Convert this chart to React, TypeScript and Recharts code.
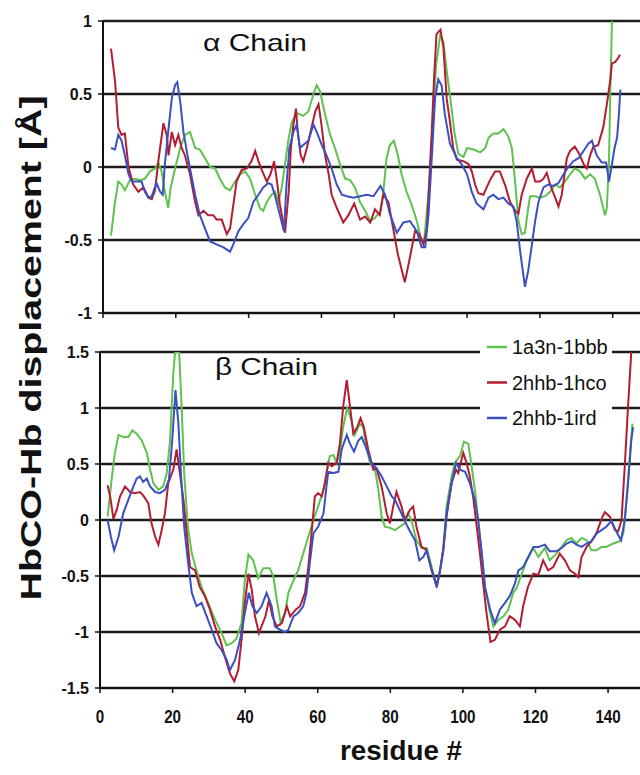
import { CartesianGrid, Line, LineChart, XAxis, YAxis } from "recharts";

// residue #, displacement (Å)
const alphaGreen = [
  [2.2, -0.47], [3.3, -0.24], [4.2, -0.1], [5.1, -0.12], [6, -0.16], [7.4, -0.09], [8.8, -0.08], [10.2, -0.09],
  [11.5, -0.08], [12.9, -0.03], [14.3, -0.01], [15.2, 0.03], [16.1, -0.03], [17, -0.17], [17.9, -0.28], [18.6, -0.14],
  [19.8, -0.01], [21.2, 0.13], [22.5, 0.22], [23.9, 0.24], [25.3, 0.13], [26.6, 0.12], [28, 0.06], [29.4, 0],
  [30.8, -0.01], [32.1, -0.08], [33.5, -0.14], [34.9, -0.16], [36.3, -0.1], [37.6, -0.05], [39, -0.03], [40.4, -0.08],
  [41.8, -0.19], [43.1, -0.28], [44, -0.3], [45, -0.24], [46.3, -0.19], [47.3, -0.17], [48.2, -0.24], [49.1, -0.14],
  [50, 0.02], [51, 0.2], [51.9, 0.31], [53.2, 0.37], [55, 0.35], [56.4, 0.38], [57.8, 0.5], [58.7, 0.56],
  [59.6, 0.52], [61, 0.36], [62.4, 0.22], [63.7, 0.13], [65.1, 0.02], [66.5, -0.08], [67.9, -0.09], [69.2, -0.14],
  [70.6, -0.24], [72, -0.3], [73.4, -0.37], [74.7, -0.35], [76.2, -0.3], [77, -0.17], [77.9, 0.06], [78.8, 0.15],
  [79.9, 0.18], [81, 0.08], [82, -0.05], [83.4, -0.17], [84.8, -0.26], [86.2, -0.37], [87.3, -0.49], [88.2, -0.51],
  [88.7, -0.37], [89.7, -0.1], [90.8, 0.4], [91.5, 0.7], [92.6, 0.9], [93.5, 0.86], [94.4, 0.66], [95.5, 0.45],
  [96.5, 0.24], [97.6, 0.09], [99, 0.07], [100, 0.13], [101.8, 0.12], [103.6, 0.1], [105, 0.13], [105.9, 0.2],
  [107.2, 0.23], [108.6, 0.23], [110, 0.26], [111.3, 0.21], [112.3, 0.13], [113.2, -0.1], [114.1, -0.37], [115, -0.46],
  [115.9, -0.45], [116.8, -0.28], [117.3, -0.2], [118.7, -0.2], [120, -0.21], [121.4, -0.2], [122.8, -0.17], [124.2, -0.12],
  [125.5, -0.14], [126.9, -0.1], [128.3, -0.05], [129.6, -0.01], [131, -0.03], [132.4, -0.08], [133.8, -0.05], [135.1, -0.08],
  [136.5, -0.19], [137.9, -0.33], [138.4, -0.28], [139, 0.06], [139.3, 0.47], [139.8, 1.0],
];

const alphaRed = [
  [2.2, 0.81], [3.3, 0.59], [4.2, 0.27], [5.1, 0.22], [6, 0.23], [7, 0], [8.3, -0.12], [9.7, -0.17],
  [11.1, -0.14], [12.5, -0.21], [13.4, -0.22], [14.3, -0.16], [15.2, 0.04], [16.6, 0.3], [17.5, 0.22], [18, 0.08],
  [18.9, 0.24], [19.8, 0.15], [20.7, 0.22], [21.6, 0.13], [22.5, 0.08], [23.9, -0.05], [25.3, -0.24], [26.2, -0.33],
  [27.6, -0.3], [28.9, -0.33], [30.3, -0.33], [31.2, -0.36], [32.6, -0.36], [34, -0.46], [34.9, -0.42], [35.8, -0.26],
  [36.7, -0.1], [38.1, -0.02], [39.5, -0.01], [40.8, 0.04], [41.8, 0.11], [42.7, 0.04], [43.6, -0.02], [45, -0.1],
  [46, -0.05], [47, 0.04], [47.8, -0.1], [48.6, -0.26], [50, -0.45], [51, -0.17], [51.6, 0.13], [52.3, 0.29],
  [53, 0.4], [53.5, 0.24], [54.3, 0.08], [55, 0.04], [56, 0.13], [57, 0.24], [58.3, 0.38], [59.2, 0.43],
  [60, 0.29], [61, 0.08], [62, -0.05], [62.8, -0.19], [64.2, -0.28], [66, -0.38], [67.4, -0.33], [69, -0.25],
  [70.6, -0.36], [72, -0.34], [73.4, -0.38], [74.7, -0.29], [76, -0.33], [77, -0.19], [78.4, -0.24], [79.7, -0.42],
  [81, -0.6], [82.9, -0.79], [84.3, -0.62], [85.7, -0.44], [86.9, -0.46], [88, -0.53], [89, -0.42], [89.6, -0.1],
  [90.3, 0.24], [90.9, 0.59], [91.6, 0.91], [92.7, 0.94], [93.5, 0.82], [94.4, 0.47], [95.3, 0.31], [96.2, 0.13],
  [97.2, 0.05], [99, 0.04], [100.4, 0.02], [101.3, -0.03], [102.2, -0.12], [103.1, -0.18], [104.5, -0.19], [105.4, -0.14],
  [106.3, -0.09], [107.7, -0.03], [109, -0.03], [110.4, -0.12], [111.8, -0.24], [113.2, -0.3], [114.1, -0.32], [115, -0.19],
  [116.4, -0.08], [117.8, -0.01], [118.7, -0.1], [120, -0.1], [121, -0.08], [121.9, -0.04], [122.8, -0.12], [124.2, -0.21],
  [125.1, -0.27], [126, -0.19], [127.4, 0.06], [128.3, 0.11], [129.6, 0.14], [131, 0.08], [132, 0.02], [132.9, -0.01],
  [133.8, 0.08], [134.7, 0.14], [136, 0.15], [137.4, 0.27], [138.4, 0.43], [139.3, 0.59], [139.8, 0.71], [140.7, 0.72],
  [141.6, 0.75], [142, 0.77],
];

const alphaBlue = [
  [2.2, 0.13], [3.3, 0.12], [4.2, 0.22], [5.1, 0.18], [6, 0.08], [7, -0.05], [7.9, -0.1], [9.2, -0.1],
  [10.6, -0.1], [11.5, -0.17], [12.5, -0.21], [13.4, -0.2], [14.7, -0.11], [15.7, -0.17], [16.4, -0.19], [17, 0.02],
  [17.9, 0.24], [18.9, 0.47], [19.8, 0.56], [20.4, 0.58], [21.2, 0.45], [22.1, 0.24], [23, 0.11], [23.9, -0.01],
  [25.3, -0.19], [26.6, -0.33], [28, -0.42], [29.4, -0.51], [31.2, -0.53], [33.1, -0.55], [34.9, -0.58], [35.8, -0.53],
  [37.2, -0.44], [38.6, -0.39], [39.9, -0.35], [41.3, -0.24], [42.7, -0.19], [44, -0.14], [45.4, -0.11], [46.3, -0.12],
  [47.3, -0.2], [48.6, -0.33], [49.7, -0.44], [50.4, -0.12], [51.2, 0.13], [52.3, 0.24], [53.2, 0.29], [54.1, 0.13],
  [55, 0.15], [56.4, 0.18], [57.8, 0.29], [58.7, 0.24], [60.1, 0.15], [61.4, 0.08], [62.8, -0.01], [64.2, -0.12],
  [65.6, -0.19], [67, -0.2], [68.8, -0.21], [70.6, -0.2], [72.4, -0.19], [74.3, -0.2], [76.2, -0.13], [77.5, -0.19],
  [78.9, -0.33], [80.7, -0.45], [82.5, -0.38], [84.3, -0.37], [86.2, -0.44], [87.5, -0.55], [88.5, -0.55], [89.4, -0.33],
  [90.3, 0.06], [91.2, 0.47], [92.1, 0.6], [93, 0.56], [93.9, 0.36], [95.3, 0.16], [97.2, 0.06], [98.5, 0.02],
  [100, -0.05], [101.3, -0.17], [102.6, -0.25], [104.5, -0.29], [105.9, -0.21], [107.2, -0.19], [108.6, -0.22], [110, -0.21],
  [111.3, -0.25], [112.7, -0.27], [113.6, -0.37], [114.7, -0.6], [115.9, -0.82], [116.8, -0.71], [117.7, -0.55], [118.7, -0.37],
  [119.6, -0.24], [121, -0.14], [122.3, -0.12], [123.7, -0.13], [125.1, -0.11], [126.5, -0.05], [127.8, 0], [129.2, 0.04],
  [130.6, 0.06], [132, 0.11], [133.3, 0.16], [134.3, 0.18], [135.6, 0.08], [137, 0.03], [138.2, 0.03], [139, -0.1],
  [139.8, 0.02], [140.5, 0.13], [141.2, 0.2], [141.7, 0.36], [142.1, 0.53],
];

const betaGreen = [
  [2.1, 0.03], [3.2, 0.36], [4.1, 0.6], [5.1, 0.76], [6.4, 0.74], [7.8, 0.74], [8.9, 0.8], [10.1, 0.77],
  [11.5, 0.71], [12.9, 0.6], [13.8, 0.45], [14.7, 0.33], [16.1, 0.27], [17.4, 0.3], [18.4, 0.42], [19.3, 0.71],
  [20.2, 1.31], [20.7, 1.5], [21.8, 1.5], [22.5, 1.01], [23.2, 0.42], [24.2, -0.06], [25.3, -0.3], [26.6, -0.45],
  [28, -0.6], [29.8, -0.74], [31.7, -0.89], [33.5, -1.01], [34.9, -1.12], [36.3, -1.1], [37.6, -1.06], [39, -0.92],
  [39.9, -0.54], [40.9, -0.31], [42.2, -0.36], [43.6, -0.52], [45, -0.43], [46.8, -0.43], [47.8, -0.51], [48.7, -0.71],
  [49.8, -0.92], [51, -0.83], [51.9, -0.65], [53.3, -0.54], [54.6, -0.45], [56, -0.3], [57.4, -0.15], [58.8, 0],
  [60.1, 0.12], [61.6, 0.27], [62.4, 0.42], [63.3, 0.57], [64.3, 0.58], [65.2, 0.51], [66.1, 0.6], [67, 0.83],
  [68.1, 1.0], [69.3, 0.89], [70.2, 0.76], [71.6, 0.86], [72.5, 0.83], [73.4, 0.65], [74.4, 0.51], [75.8, 0.45],
  [76.7, 0.27], [77.6, 0.03], [78.5, -0.06], [79.9, -0.07], [81.3, -0.09], [82.6, -0.06], [84, -0.03], [84.9, 0.06],
  [85.8, 0], [87.2, -0.18], [88.6, -0.25], [90, -0.25], [91.4, -0.42], [92.8, -0.6], [93.7, -0.45], [94.6, -0.24],
  [95.5, 0.12], [96.9, 0.39], [97.8, 0.51], [99.2, 0.57], [100.3, 0.7], [101.5, 0.68], [102.4, 0.48], [103.3, 0.27],
  [104.2, 0], [105.2, -0.3], [106.1, -0.6], [107.5, -0.83], [108.4, -0.95], [109.8, -0.89], [111.2, -0.86], [112.5, -0.8],
  [113.9, -0.65], [114.9, -0.6], [116.2, -0.48], [117.5, -0.37], [119.4, -0.25], [120.8, -0.33], [122.6, -0.25], [123.9, -0.36],
  [125.8, -0.3], [127.2, -0.24], [128.6, -0.18], [129.9, -0.16], [131.3, -0.21], [132.7, -0.16], [134.1, -0.18], [135.4, -0.27],
  [136.8, -0.27], [138.2, -0.24], [139.5, -0.24], [141.4, -0.21], [143.2, -0.19], [144.2, -0.12], [145.1, 0.18], [146, 0.57],
  [146.7, 0.86],
];

const betaRed = [
  [2.1, 0.31], [2.8, 0.21], [3.7, 0.01], [4.6, 0.09], [5.5, 0.21], [6.9, 0.3], [8.3, 0.25], [9.6, 0.24],
  [11, 0.25], [11.9, 0.22], [13.3, 0.15], [14.2, -0.03], [15.2, -0.15], [16.1, -0.22], [17, -0.09], [17.9, 0.06],
  [18.8, 0.33], [20.2, 0.45], [21.1, 0.63], [22, 0.42], [23, 0.18], [23.9, -0.12], [24.8, -0.42], [26.2, -0.45],
  [27.5, -0.6], [28.9, -0.68], [30.3, -0.8], [31.7, -0.95], [33.1, -1.07], [34.4, -1.22], [35.8, -1.37], [37, -1.44],
  [38.1, -1.34], [39, -1.07], [39.9, -0.74], [40.9, -0.48], [41.8, -0.62], [42.7, -0.86], [43.8, -1.01], [44.5, -0.95],
  [45.6, -0.86], [46.6, -0.71], [47.5, -0.86], [48.7, -0.95], [50.1, -0.92], [51.5, -0.77], [52.4, -0.86], [53.9, -0.8],
  [55.1, -0.77], [56.5, -0.65], [57.4, -0.42], [58.3, -0.12], [59.2, 0.21], [60.1, 0.24], [61.1, 0.21], [62, 0.33],
  [62.9, 0.51], [63.8, 0.48], [65.2, 0.51], [66.1, 0.68], [67, 1.01], [68, 1.25], [68.9, 1.01], [69.8, 0.77],
  [70.9, 0.83], [71.8, 0.91], [72.7, 0.83], [73.9, 0.63], [75.3, 0.45], [76.2, 0.46], [77.6, 0.3], [79, 0.06],
  [79.9, -0.03], [80.8, 0.12], [81.7, 0.25], [83.1, 0.12], [84, 0], [85.4, 0.09], [86.3, 0.12], [87.2, -0.06],
  [88.6, -0.24], [90, -0.27], [91.4, -0.45], [92.8, -0.58], [93.7, -0.45], [94.6, -0.27], [95.5, 0.03], [96.9, 0.33],
  [98.1, 0.45], [98.7, 0.42], [100.1, 0.6], [101, 0.51], [101.9, 0.39], [102.8, 0.21], [103.7, -0.03], [104.7, -0.3],
  [105.6, -0.57], [106.5, -0.83], [107.6, -1.09], [108.8, -1.07], [110.2, -0.98], [111.6, -0.95], [112.9, -0.86], [114.3, -0.89],
  [115.7, -0.95], [116.6, -0.77], [117.9, -0.6], [119.4, -0.48], [120.8, -0.49], [122.1, -0.36], [123.5, -0.45], [124.9, -0.42],
  [126.7, -0.3], [128.1, -0.36], [129.5, -0.45], [130.9, -0.48], [131.8, -0.51], [132.7, -0.33], [134.1, -0.24], [135.4, -0.19],
  [136.8, -0.12], [138.2, 0.01], [139.1, 0.07], [140.5, 0.03], [141.9, -0.09], [142.8, -0.1], [143.7, 0], [144.6, 0.48],
  [145.5, 1.01], [146.4, 1.5],
];

const betaBlue = [
  [2.1, 0], [3, -0.15], [3.9, -0.27], [5.1, -0.15], [6.4, 0.06], [7.8, 0.18], [9.2, 0.3], [10.1, 0.37],
  [11, 0.39], [11.9, 0.34], [12.9, 0.37], [13.8, 0.3], [15.2, 0.25], [16.5, 0.24], [17.9, 0.27], [19, 0.36],
  [19.9, 0.71], [20.8, 1.16], [21.6, 0.86], [22.3, 0.42], [23.2, -0.06], [24.2, -0.36], [25.3, -0.65], [26.6, -0.77],
  [28, -0.74], [29.4, -0.86], [30.8, -0.98], [32.1, -1.1], [33.5, -1.16], [34.9, -1.25], [35.8, -1.34], [37.2, -1.25],
  [38.6, -1.07], [39.9, -0.83], [41, -0.65], [42, -0.77], [43.2, -0.83], [44.5, -0.77], [45.9, -0.65], [47.3, -0.77],
  [48.2, -0.95], [49.6, -0.98], [51, -1], [51.9, -0.98], [53.3, -0.86], [54.6, -0.83], [56, -0.77], [56.9, -0.65],
  [57.9, -0.36], [58.8, -0.12], [60.1, -0.06], [61.6, 0.06], [62.4, 0.3], [62.9, 0.43], [64.3, 0.42], [65.7, 0.43],
  [66.6, 0.63], [68, 0.76], [68.9, 0.68], [70, 0.61], [71.2, 0.71], [72.1, 0.74], [73.5, 0.63], [74.8, 0.51],
  [76.2, 0.46], [77.6, 0.39], [79, 0.3], [80.4, 0.21], [81.3, 0.18], [82.6, 0.09], [84, -0.01], [85.4, -0.1],
  [86.8, -0.18], [88, -0.36], [89.1, -0.33], [90, -0.27], [91.4, -0.45], [92.8, -0.6], [93.7, -0.45], [94.6, -0.27],
  [95.5, 0.06], [96.9, 0.33], [98.1, 0.51], [99.2, 0.45], [100.6, 0.43], [101.9, 0.33], [103.3, 0.18], [104.2, 0],
  [105.2, -0.3], [106.1, -0.6], [107.5, -0.8], [108.8, -0.92], [110.2, -0.8], [111.6, -0.74], [112.9, -0.68], [114.3, -0.57],
  [115.3, -0.45], [116.6, -0.42], [118, -0.33], [119.4, -0.24], [120.8, -0.24], [122.6, -0.22], [123.9, -0.28], [125.8, -0.28],
  [127.2, -0.25], [128.6, -0.21], [129.9, -0.19], [131.3, -0.22], [132.7, -0.24], [134.1, -0.21], [135.4, -0.19], [136.8, -0.12],
  [138.2, -0.09], [139.5, -0.06], [140.9, -0.01], [141.8, -0.07], [142.7, -0.13], [143.6, -0.18], [144.6, 0], [145.5, 0.33],
  [146.4, 0.71], [146.9, 0.83],
];

const xTicks = [0, 20, 40, 60, 80, 100, 120, 140];
const alphaTicks = [-1, -0.5, 0, 0.5, 1];
const betaTicks = [-1.5, -1, -0.5, 0, 0.5, 1, 1.5];

const seriesNames = ["1a3n-1bbb", "2hhb-1hco", "2hhb-1ird"];
const colors = ["#5fc24e", "#b21d32", "#3c4fc0"];

const FONT = "'Liberation Sans', Arial, sans-serif";
const INK = "#111";

const toPts = (arr: number[][]) => arr.map(([r, v]) => ({ r, v }));

const yTickStyle = { fontSize: 16, fontWeight: "bold", fill: INK, fontFamily: FONT };

function XTick(props: any) {
  const { x, y, payload } = props;
  return (
    <g transform={`translate(${x},${y})`}>
      <text
        textAnchor="middle"
        dy="0.72em"
        fontSize={19}
        fontWeight="bold"
        fill={INK}
        fontFamily={FONT}
        transform="scale(0.8,1)"
      >
        {payload.value}
      </text>
    </g>
  );
}

// top panel keeps its tick marks but has no numbers
const NoTick = () => <g />;

function LegendBox() {
  return (
    <svg
      width={132}
      height={97}
      style={{ position: "absolute", left: 480, top: 335, background: "#fff" }}
    >
      {seriesNames.map((name, i) => {
        const cy = 12 + i * 35.5;
        return (
          <g key={name}>
            <line x1={7} x2={27} y1={cy} y2={cy} stroke={colors[i]} strokeWidth={2.5} />
            <text x={32} y={cy} dy="0.36em" fontSize={20} fill={INK} fontFamily={FONT}>
              {name}
            </text>
          </g>
        );
      })}
    </svg>
  );
}

function Panel(props: {
  series: number[][][];
  ticks: number[];
  domainY: [number, number];
  xMax: number;
  axisW: number;
  top: number;
  height: number;
  marginTop: number;
  xAxisH: number;
  showXLabels: boolean;
}) {
  const { series, ticks, domainY, xMax, axisW, top, height, marginTop, xAxisH, showXLabels } = props;
  return (
    <div style={{ position: "absolute", left: 0, top }}>
      <LineChart width={640} height={height} margin={{ top: marginTop, right: 0, left: 0, bottom: 0 }}>
        <CartesianGrid horizontal vertical={false} stroke="#1c1c1c" strokeWidth={2.5} />
        <XAxis
          type="number"
          dataKey="r"
          domain={[0, xMax]}
          ticks={xTicks}
          allowDataOverflow
          height={xAxisH}
          axisLine={{ stroke: INK, strokeWidth: 2 }}
          tickLine={{ stroke: INK, strokeWidth: 1.5 }}
          tickSize={5}
          tickMargin={16}
          tick={showXLabels ? <XTick /> : <NoTick />}
        />
        <YAxis
          type="number"
          domain={domainY}
          ticks={ticks}
          allowDataOverflow
          width={axisW}
          axisLine={{ stroke: INK, strokeWidth: 2 }}
          tickLine={{ stroke: INK, strokeWidth: 1.5 }}
          tickSize={5}
          tickMargin={6}
          tick={yTickStyle}
        />
        {series.map((s, i) => (
          <Line
            key={seriesNames[i]}
            name={seriesNames[i]}
            data={toPts(s)}
            dataKey="v"
            type="linear"
            stroke={colors[i]}
            strokeWidth={2}
            dot={false}
            isAnimationActive={false}
          />
        ))}
      </LineChart>
    </div>
  );
}

export default function App() {
  return (
    <div style={{ position: "absolute", left: 0, top: 0, width: 640, height: 775, background: "#fff", overflow: "hidden" }}>
      <Panel
        series={[alphaGreen, alphaRed, alphaBlue]}
        ticks={alphaTicks}
        domainY={[-1, 1]}
        xMax={147.5}
        axisW={103}
        top={0}
        height={330}
        marginTop={21}
        xAxisH={17}
        showXLabels={false}
      />
      <Panel
        series={[betaGreen, betaRed, betaBlue]}
        ticks={betaTicks}
        domainY={[-1.5, 1.5]}
        xMax={148.8}
        axisW={100}
        top={320}
        height={413}
        marginTop={32}
        xAxisH={45}
        showXLabels
      />
      <LegendBox />
      <svg
        width={640}
        height={775}
        style={{ position: "absolute", left: 0, top: 0, pointerEvents: "none" }}
        fontFamily={FONT}
        fill={INK}
      >
        <text x={203} y={51} fontSize={24} textLength={104} lengthAdjust="spacingAndGlyphs">
          α Chain
        </text>
        <text x={215} y={375} fontSize={24} textLength={103} lengthAdjust="spacingAndGlyphs">
          β Chain
        </text>
        <text
          transform="translate(41,348) rotate(-90)"
          textAnchor="middle"
          fontSize={29}
          fontWeight="bold"
          textLength={505}
          lengthAdjust="spacingAndGlyphs"
        >
          HbCO-Hb displacement [Å]
        </text>
        <text x={401} y={760} textAnchor="middle" fontSize={27} fontWeight="bold" textLength={122} lengthAdjust="spacingAndGlyphs">
          residue #
        </text>
      </svg>
    </div>
  );
}
